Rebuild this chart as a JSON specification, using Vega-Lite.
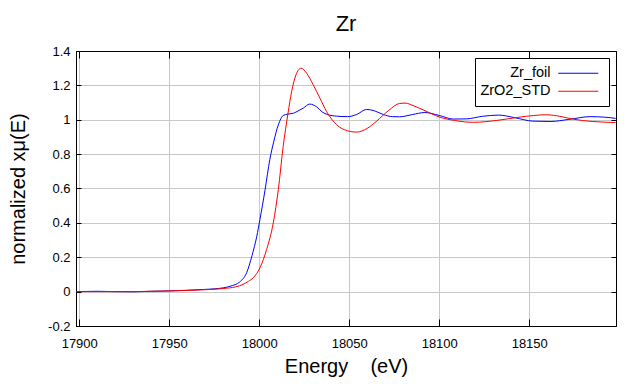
{
  "$schema": "https://vega.github.io/schema/vega-lite/v6.json",
  "autosize": {"type": "none"},
  "width": 540,
  "height": 275,
  "padding": {"left": 76, "top": 51, "right": 24, "bottom": 58},
  "background": "white",
  "title": {"text": "Zr", "fontSize": 22, "font": "Liberation Sans", "fontWeight": "normal", "color": "black", "baseline": "alphabetic", "offset": -8, "anchor": "middle"},
  "config": {
    "view": {"stroke": "black", "strokeWidth": 1},
    "font": "Liberation Sans"
  },
  "data": {"values": [
    {"s": "Zr_foil", "e": 17898, "v": 0.0},
    {"s": "Zr_foil", "e": 17910, "v": 0.002},
    {"s": "Zr_foil", "e": 17920, "v": 0.0},
    {"s": "Zr_foil", "e": 17930, "v": -0.001},
    {"s": "Zr_foil", "e": 17940, "v": 0.002},
    {"s": "Zr_foil", "e": 17950, "v": 0.004},
    {"s": "Zr_foil", "e": 17960, "v": 0.008},
    {"s": "Zr_foil", "e": 17970, "v": 0.013},
    {"s": "Zr_foil", "e": 17980, "v": 0.022},
    {"s": "Zr_foil", "e": 17985, "v": 0.035},
    {"s": "Zr_foil", "e": 17989, "v": 0.055},
    {"s": "Zr_foil", "e": 17993, "v": 0.11},
    {"s": "Zr_foil", "e": 17996, "v": 0.21},
    {"s": "Zr_foil", "e": 17998.6, "v": 0.32},
    {"s": "Zr_foil", "e": 18000.4, "v": 0.42},
    {"s": "Zr_foil", "e": 18003.2, "v": 0.59},
    {"s": "Zr_foil", "e": 18005.9, "v": 0.77},
    {"s": "Zr_foil", "e": 18008, "v": 0.87},
    {"s": "Zr_foil", "e": 18010.6, "v": 0.97},
    {"s": "Zr_foil", "e": 18013.3, "v": 1.025},
    {"s": "Zr_foil", "e": 18016, "v": 1.033},
    {"s": "Zr_foil", "e": 18019, "v": 1.038},
    {"s": "Zr_foil", "e": 18021, "v": 1.048},
    {"s": "Zr_foil", "e": 18024.5, "v": 1.068},
    {"s": "Zr_foil", "e": 18028, "v": 1.091},
    {"s": "Zr_foil", "e": 18031.9, "v": 1.075},
    {"s": "Zr_foil", "e": 18035, "v": 1.045},
    {"s": "Zr_foil", "e": 18038, "v": 1.03},
    {"s": "Zr_foil", "e": 18043, "v": 1.021},
    {"s": "Zr_foil", "e": 18049, "v": 1.018},
    {"s": "Zr_foil", "e": 18054, "v": 1.03},
    {"s": "Zr_foil", "e": 18059.7, "v": 1.06},
    {"s": "Zr_foil", "e": 18064, "v": 1.052},
    {"s": "Zr_foil", "e": 18069, "v": 1.03},
    {"s": "Zr_foil", "e": 18074, "v": 1.018},
    {"s": "Zr_foil", "e": 18078, "v": 1.017},
    {"s": "Zr_foil", "e": 18085, "v": 1.03},
    {"s": "Zr_foil", "e": 18092, "v": 1.042},
    {"s": "Zr_foil", "e": 18100, "v": 1.025},
    {"s": "Zr_foil", "e": 18107.8, "v": 1.004},
    {"s": "Zr_foil", "e": 18115, "v": 1.005},
    {"s": "Zr_foil", "e": 18124, "v": 1.02},
    {"s": "Zr_foil", "e": 18133, "v": 1.027},
    {"s": "Zr_foil", "e": 18142, "v": 1.012},
    {"s": "Zr_foil", "e": 18152, "v": 0.992},
    {"s": "Zr_foil", "e": 18162, "v": 0.99},
    {"s": "Zr_foil", "e": 18172, "v": 1.002},
    {"s": "Zr_foil", "e": 18184, "v": 1.018},
    {"s": "Zr_foil", "e": 18192, "v": 1.015},
    {"s": "Zr_foil", "e": 18198, "v": 1.008},
    {"s": "ZrO2_STD", "e": 17898, "v": 0.0},
    {"s": "ZrO2_STD", "e": 17910, "v": 0.0},
    {"s": "ZrO2_STD", "e": 17920, "v": 0.0},
    {"s": "ZrO2_STD", "e": 17930, "v": 0.0},
    {"s": "ZrO2_STD", "e": 17940, "v": 0.002},
    {"s": "ZrO2_STD", "e": 17950, "v": 0.004},
    {"s": "ZrO2_STD", "e": 17960, "v": 0.007},
    {"s": "ZrO2_STD", "e": 17970, "v": 0.011},
    {"s": "ZrO2_STD", "e": 17980, "v": 0.018},
    {"s": "ZrO2_STD", "e": 17987, "v": 0.028},
    {"s": "ZrO2_STD", "e": 17991, "v": 0.042},
    {"s": "ZrO2_STD", "e": 17994, "v": 0.06},
    {"s": "ZrO2_STD", "e": 17996.7, "v": 0.081},
    {"s": "ZrO2_STD", "e": 18000.4, "v": 0.139},
    {"s": "ZrO2_STD", "e": 18004.1, "v": 0.245},
    {"s": "ZrO2_STD", "e": 18007.8, "v": 0.4},
    {"s": "ZrO2_STD", "e": 18010.6, "v": 0.594},
    {"s": "ZrO2_STD", "e": 18013.3, "v": 0.845},
    {"s": "ZrO2_STD", "e": 18016, "v": 1.039},
    {"s": "ZrO2_STD", "e": 18018, "v": 1.164},
    {"s": "ZrO2_STD", "e": 18020.4, "v": 1.261},
    {"s": "ZrO2_STD", "e": 18023.2, "v": 1.3},
    {"s": "ZrO2_STD", "e": 18026.3, "v": 1.271},
    {"s": "ZrO2_STD", "e": 18030, "v": 1.203},
    {"s": "ZrO2_STD", "e": 18033.7, "v": 1.126},
    {"s": "ZrO2_STD", "e": 18037.4, "v": 1.048},
    {"s": "ZrO2_STD", "e": 18043, "v": 0.971},
    {"s": "ZrO2_STD", "e": 18049, "v": 0.936},
    {"s": "ZrO2_STD", "e": 18054, "v": 0.928},
    {"s": "ZrO2_STD", "e": 18060, "v": 0.95},
    {"s": "ZrO2_STD", "e": 18065, "v": 0.99},
    {"s": "ZrO2_STD", "e": 18072, "v": 1.055},
    {"s": "ZrO2_STD", "e": 18078, "v": 1.095},
    {"s": "ZrO2_STD", "e": 18081, "v": 1.097},
    {"s": "ZrO2_STD", "e": 18086, "v": 1.08},
    {"s": "ZrO2_STD", "e": 18091, "v": 1.058},
    {"s": "ZrO2_STD", "e": 18100, "v": 1.016},
    {"s": "ZrO2_STD", "e": 18109, "v": 0.995},
    {"s": "ZrO2_STD", "e": 18119, "v": 0.985},
    {"s": "ZrO2_STD", "e": 18132, "v": 0.996},
    {"s": "ZrO2_STD", "e": 18145, "v": 1.016},
    {"s": "ZrO2_STD", "e": 18159.7, "v": 1.029},
    {"s": "ZrO2_STD", "e": 18167, "v": 1.02},
    {"s": "ZrO2_STD", "e": 18174, "v": 1.004},
    {"s": "ZrO2_STD", "e": 18185, "v": 0.99},
    {"s": "ZrO2_STD", "e": 18198, "v": 0.984}
  ]},
  "resolve": {"axis": {"x": "independent", "y": "independent"}},
  "layer": [
    {
      "mark": {"type": "line", "strokeWidth": 1, "interpolate": "monotone", "clip": true},
      "encoding": {
        "x": {"field": "e", "type": "quantitative",
          "scale": {"domain": [17898.2, 18198.2], "nice": false, "zero": false},
          "axis": {"orient": "bottom", "values": [17900, 17950, 18000, 18050, 18100, 18150], "format": "d",
            "title": "Energy\u00a0\u00a0\u00a0\u00a0(eV)", "titleFont": "Liberation Sans", "titleFontSize": 20, "titleFontWeight": "normal", "titleColor": "black",
            "titleX": 270, "titleY": 46, "titleBaseline": "alphabetic", "titleAlign": "center",
            "labelFont": "Liberation Sans", "labelFontSize": 13, "labelColor": "black", "labelPadding": 18, "labelBaseline": "top",
            "tickSize": -7, "tickColor": "black", "domainColor": "black", "gridColor": "#c8c8c8", "grid": true, "labelFlush": false}},
        "y": {"field": "v", "type": "quantitative",
          "scale": {"domain": [-0.2, 1.4], "nice": false, "zero": false},
          "axis": {"orient": "left", "values": [-0.2, 0, 0.2, 0.4, 0.6, 0.8, 1, 1.2, 1.4],
            "labelExpr": "replace(format(datum.value, '.1~f'), '\u2212', '-')",
            "title": "normalized x\u03bc(E)", "titleFont": "Liberation Sans", "titleFontSize": 20, "titleFontWeight": "normal", "titleColor": "black",
            "titleX": -52, "titleY": 137.5, "titleBaseline": "alphabetic", "titleAlign": "center", "titleAngle": -90,
            "labelFont": "Liberation Sans", "labelFontSize": 13, "labelColor": "black", "labelPadding": 11,
            "tickSize": -5, "tickColor": "black", "domainColor": "black", "gridColor": "#c8c8c8", "grid": true, "labelFlush": false}},
        "color": {"field": "s", "type": "nominal",
          "scale": {"domain": ["Zr_foil", "ZrO2_STD"], "range": ["#0000ff", "#ff0000"]},
          "legend": {"orient": "none", "legendX": 399, "legendY": 7, "title": null,
            "symbolType": "M 13.6 0 L 21.6 0", "symbolSize": 100, "symbolOffset": 0, "symbolStrokeWidth": 1.2,
            "labelAlign": "right", "labelOffset": 53,
            "labelFont": "Liberation Sans", "labelFontSize": 14.5, "labelColor": "black",
            "strokeColor": "black", "fillColor": "white", "padding": 8, "rowPadding": 3}}
      }
    },
    {
      "mark": {"type": "rule", "opacity": 0},
      "encoding": {
        "x": {"field": "e", "type": "quantitative",
          "axis": {"orient": "top", "values": [17900, 17950, 18000, 18050, 18100, 18150], "labels": false, "title": null,
            "tickSize": -7, "tickColor": "black", "domainColor": "black", "grid": false}},
        "y": {"field": "v", "type": "quantitative",
          "axis": {"orient": "right", "values": [-0.2, 0, 0.2, 0.4, 0.6, 0.8, 1, 1.2, 1.4], "labels": false, "title": null,
            "tickSize": -5, "tickColor": "black", "domainColor": "black", "grid": false}}
      }
    }
  ]
}
